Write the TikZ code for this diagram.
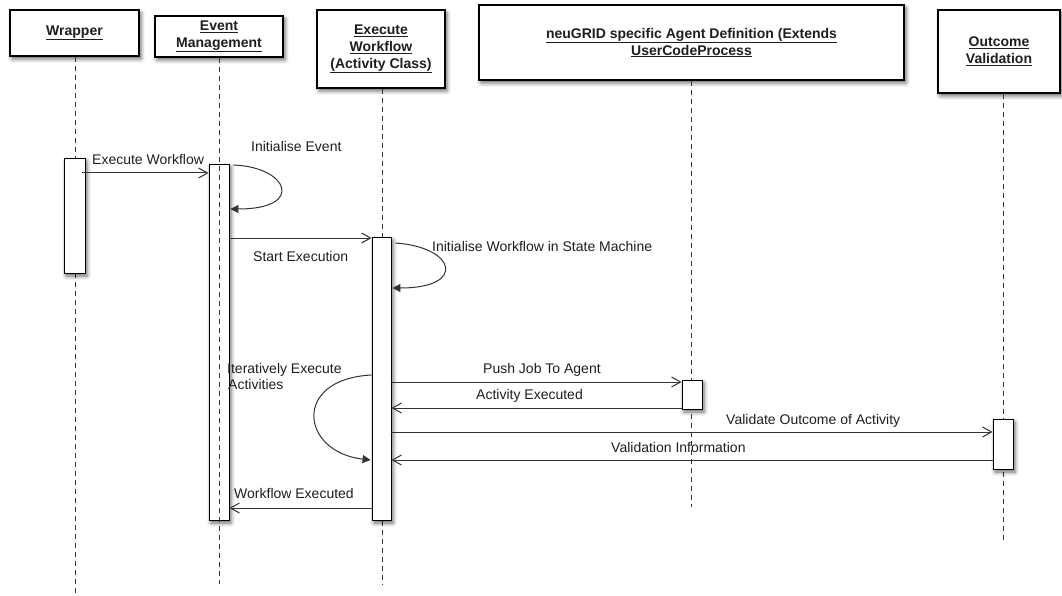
\documentclass[tikz,border=0pt]{standalone}
\usepackage{fontspec}
\setmainfont{Liberation Sans}
\usetikzlibrary{arrows.meta,shadows.blur}
\definecolor{ink}{HTML}{1E1E1E}
\definecolor{wire}{HTML}{333333}

\begin{document}
\begin{tikzpicture}[x=1pt,y=-1pt,
  every node/.style={font=\fontsize{14}{17}\selectfont, text=ink},
  softshadow/.style={blur shadow={shadow xshift=2pt, shadow yshift=-3pt,
      shadow blur radius=4pt, shadow opacity=60}},
  header/.style={draw=black, line width=1.1pt, fill=white, align=center,
      inner sep=0pt, font=\fontsize{14}{17}\selectfont\bfseries, softshadow},
  bar/.style={draw=black, line width=0.9pt, fill=white, inner sep=0pt,
      minimum width=20pt, softshadow},
  lifeline/.style={draw=wire, line width=0.8pt, dash pattern=on 5pt off 4pt},
  msg/.style={draw=wire, line width=1pt,
      -{Straight Barb[length=9pt,width=10pt]}},
  selfmsg/.style={draw=wire, line width=1pt,
      -{Triangle[length=8pt,width=8pt]}},
  lbl/.style={anchor=base west, inner sep=0pt}]

\useasboundingbox (0,0) rectangle (1062,596);

% participants
\node[header, minimum width=129pt, minimum height=46pt] (wrapper) at (74.5,33)
  {\underline{Wrapper}};
\node[header, minimum width=128pt, minimum height=41pt] (event) at (219,36.5)
  {\underline{Event}\\\underline{Management}};
\node[header, minimum width=128pt, minimum height=78pt] (exec) at (381,49)
  {\underline{Execute}\\\underline{Workflow}\\\underline{(Activity Class)}};
\node[header, minimum width=425pt, minimum height=75pt] (agent) at (691.5,42.5)
  {\underline{neuGRID specific Agent Definition (Extends}\\\underline{UserCodeProcess}};
\node[header, minimum width=122pt, minimum height=83pt] (outcome) at (999,51.5)
  {\underline{Outcome}\\\underline{Validation}};

% lifeline ends
\coordinate (wrapperEnd) at (75,595);
\coordinate (eventEnd) at (219,584);
\coordinate (execEnd) at (382,585);
\coordinate (agentEnd) at (691,507);
\coordinate (outcomeEnd) at (1003,543);

\draw[lifeline] (wrapper.south -| wrapperEnd) -- (wrapperEnd);
\draw[lifeline] (exec.south -| execEnd) -- (execEnd);
\draw[lifeline] (agent.south -| agentEnd) -- (agentEnd);
\draw[lifeline] (outcome.south -| outcomeEnd) -- (outcomeEnd);

% activation bars
\node[bar, minimum width=21pt, minimum height=115pt] (wbar) at (74.5,215.5) {};
\node[bar, minimum height=356pt] (ebar) at (219,342) {};
\node[bar, minimum width=19pt, minimum height=283pt] (xbar) at (381.5,378.5) {};
\node[bar, minimum height=29pt] (abar) at (692,394.5) {};
\node[bar, minimum height=50pt] (obar) at (1003,444) {};

% the event lifeline runs through its activation bar
\draw[lifeline] (event.south -| eventEnd) -- (eventEnd);

% message rows
\coordinate (r1) at (0,173);
\coordinate (r2a) at (0,165);
\coordinate (r2b) at (0,209);
\coordinate (r3) at (0,238);
\coordinate (r4a) at (0,243);
\coordinate (r4b) at (0,288);
\coordinate (r5a) at (0,375);
\coordinate (r5b) at (0,460);
\coordinate (r6) at (0,382);
\coordinate (r7) at (0,408);
\coordinate (r8) at (0,432);
\coordinate (r9) at (0,460);
\coordinate (r10) at (0,508);

% messages
\draw[msg] ([xshift=-3pt]wbar.east |- r1) -- (ebar.west |- r1);
\draw[selfmsg] ([xshift=4pt]ebar.east |- r2a)
  .. controls +(55,2) and +(75,0) .. ([xshift=1pt]ebar.east |- r2b);
\draw[msg] (ebar.east |- r3) -- (xbar.west |- r3);
\draw[selfmsg] ([xshift=4pt]xbar.east |- r4a)
  .. controls +(60,4) and +(75,0) .. ([xshift=1pt]xbar.east |- r4b);
\draw[selfmsg] (xbar.west |- r5a)
  .. controls +(-80,4) and +(-70,-8) .. ([xshift=-1pt]xbar.west |- r5b);
\draw[msg] (xbar.east |- r6) -- (abar.west |- r6);
\draw[msg] (abar.west |- r7) -- (xbar.east |- r7);
\draw[msg] (xbar.east |- r8) -- (obar.west |- r8);
\draw[msg] (obar.west |- r9) -- (xbar.east |- r9);
\draw[msg] (xbar.west |- r10) -- (ebar.east |- r10);

% message labels
\node[lbl] (l1) at (92,165) {Execute Workflow};
\node[lbl] (l2) at (251,152) {Initialise Event};
\node[lbl] (l3) at (253,261) {Start Execution};
\node[lbl] (l4) at (432,251) {Initialise Workflow in State Machine};
\node[lbl] (l5) at (227,373) {Iteratively Execute};
\node[lbl] (l5b) at (228,389) {Activities};
\node[lbl] (l6) at (483,373) {Push Job To Agent};
\node[lbl] (l7) at (476,399) {Activity Executed};
\node[lbl] (l8) at (726,424) {Validate Outcome of Activity};
\node[lbl] (l9) at (611,452) {Validation Information};
\node[lbl] (l10) at (234,498) {Workflow Executed};

\end{tikzpicture}
\end{document}
